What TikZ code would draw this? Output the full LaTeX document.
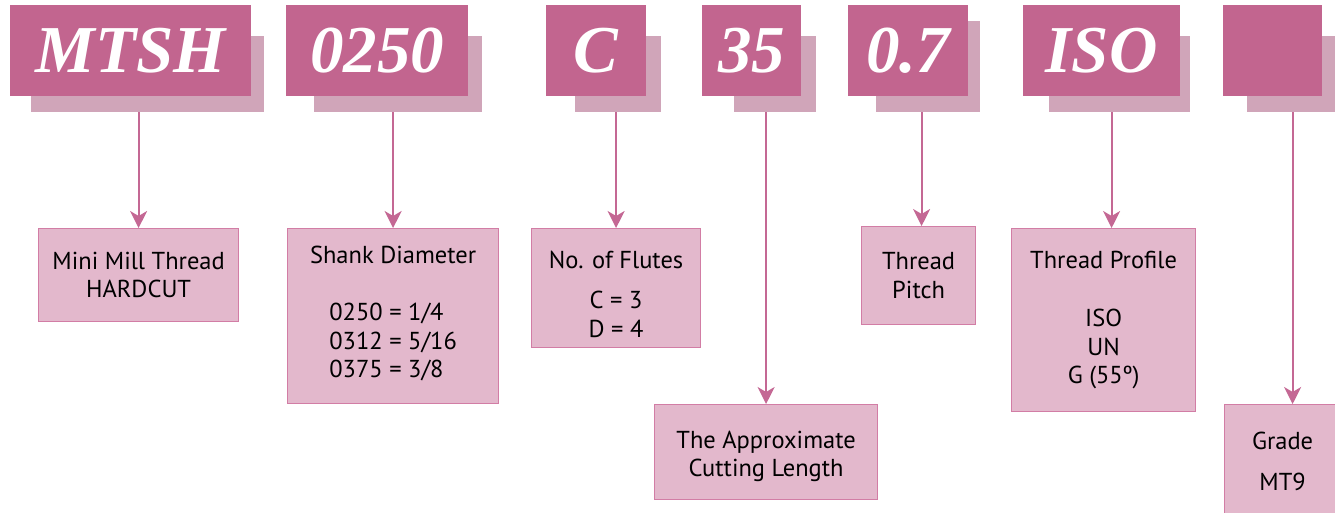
\documentclass[tikz,border=0pt]{standalone}
\usepackage{fontspec}
\setmainfont{PT Sans}
\newfontfamily\codefont{Liberation Serif}
\usetikzlibrary{arrows.meta,positioning}
\definecolor{mtdark}{RGB}{194,101,143}
\definecolor{mtshade}{RGB}{208,165,185}
\definecolor{mtlight}{RGB}{227,184,204}
\definecolor{mtborder}{RGB}{210,125,165}
\definecolor{mtline}{RGB}{196,104,148}
\tikzset{
    codigo/.style={
        rectangle,
        fill=mtdark,
        text=white,
        inner sep=0pt,
        anchor=north west,
        minimum height=91pt,
        font=\codefont\bfseries\itshape\fontsize{67}{67}\selectfont
    },
    sombra/.style={rectangle, fill=mtshade, inner sep=0pt, anchor=north west, minimum height=76pt},
    campo/.style={
        rectangle,
        draw=mtborder,
        line width=1.2pt,
        fill=mtlight,
        align=center,
        inner sep=0pt,
        anchor=north west,
        font=\fontsize{24.5}{28.5}\selectfont
    },
    seta/.style={draw=mtline, line width=2pt, -{Stealth[length=17pt,width=17pt,inset=5pt]}}
}

\begin{document}
\begin{tikzpicture}[x=1pt, y=-1pt]
    \clip (0,0) rectangle (1335,512);
    % sombras
    \node[sombra, minimum width=233pt] (mtsh-s) at (31,36) {};
    \node[sombra, minimum width=168pt] (haste-s) at (314,36) {};
    \node[sombra, minimum width=86pt] (c-s) at (575,36) {};
    \node[sombra, minimum width=82pt] (comp-s) at (734,36) {};
    \node[sombra, minimum width=104pt, minimum height=91pt] (passo-s) at (876,21) {};
    \node[sombra, minimum width=141pt] (iso-s) at (1049,36) {};
    \node[sombra, minimum width=100pt] (classe-s) at (1247,36) {};
    % codigo
    \node[codigo, minimum width=241pt] (mtsh) at (10,5) {MTSH};
    \node[codigo, minimum width=182pt] (haste) at (286,5) {0250};
    \node[codigo, minimum width=100pt] (c) at (546,5) {C};
    \node[codigo, minimum width=99pt] (comp) at (702,5) {35};
    \node[codigo, minimum width=120pt] (passo) at (848,5) {0.7};
    \node[codigo, minimum width=157pt] (iso) at (1023,5) {ISO};
    \node[codigo, minimum width=99pt] (classe) at (1223,5) {};
    % campos
    \node[campo, minimum width=200pt, minimum height=93pt] (mini) at (38,228) {Mini Mill Thread\\HARDCUT};
    \node[campo, minimum width=211pt, minimum height=175pt] (diametro) at (287,228) {Shank Diameter\\[28.5pt]\begin{tabular}[t]{@{}l@{}}0250 = 1/4\\0312 = 5/16\\0375 = 3/8\end{tabular}};
    \node[campo, minimum width=169pt, minimum height=119pt] (canais) at (531,228) {\rule{0pt}{30pt}No. of Flutes\\[11.5pt]C = 3\\D = 4};
    \node[campo, minimum width=223pt, minimum height=95pt] (corte) at (654,404) {\rule{0pt}{26pt}The Approximate\\Cutting Length};
    \node[campo, minimum width=114pt, minimum height=98pt] (rosca) at (861,226) {Thread\\Pitch};
    \node[campo, minimum width=184pt, minimum height=183pt] (perfil) at (1011,228) {Thread Profile\\[29.5pt]ISO\\UN\\G (55º)};
    \node[campo, minimum width=116pt, minimum height=113pt] (grau) at (1224,404) {Grade\\[12.5pt]MT9};

    \draw[seta] (mtsh-s.south -| mini.north) -- (mini.north);
    \draw[seta] (haste-s.south -| diametro.north) -- (diametro.north);
    \draw[seta] (c-s.south -| canais.north) -- (canais.north);
    \draw[seta] (comp-s.south -| corte.north) -- (corte.north);
    \draw[seta] ([xshift=3pt]rosca.north |- passo-s.south) -- ([xshift=3pt]rosca.north);
    \draw[seta] ([xshift=8pt]perfil.north |- iso-s.south) -- ([xshift=8pt]perfil.north);
    \draw[seta] ([xshift=10pt]grau.north |- classe-s.south) -- ([xshift=10pt]grau.north);
\end{tikzpicture}
\end{document}
